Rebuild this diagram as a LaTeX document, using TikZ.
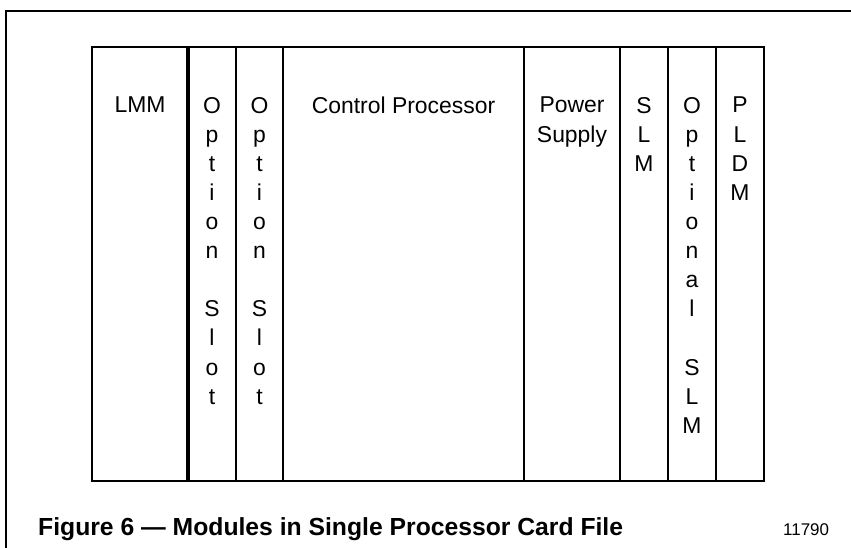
\documentclass[tikz,border=0pt]{standalone}
\usepackage{fontspec}
\setmainfont{Liberation Sans}
\usetikzlibrary{positioning}

\begin{document}
\begin{tikzpicture}[x=1bp,y=-1bp,
    modlabel/.style={anchor=north, align=center, inner sep=0pt,
      font=\fontsize{23}{29.2}\selectfont},
    frameline/.style={line width=2.8bp}]
    \useasboundingbox (0,0) rectangle (851,548);
    % page frame and card file outline
    \draw[frameline] (6,548) -- (6,11) -- (851,11);
    \draw[frameline] (92,47) rectangle (764,481);
    \foreach \x in {236,283,524,620,668,716}
      \draw[line width=2.5bp] (\x,47) -- (\x,481);
    \draw[line width=3.5bp] (188,47) -- (188,481);

    \node[modlabel] (lmm) at (140,97) {LMM};
    \node[modlabel] (optA) at (212,97) {O\\p\\t\\i\\o\\n\\ \\S\\l\\o\\t};
    \node[modlabel] (optB) at (259.5,97) {O\\p\\t\\i\\o\\n\\ \\S\\l\\o\\t};
    \node[modlabel] (cp) at (403.5,97) {Control Processor};
    \node[modlabel] (ps) at (572,97) {Power\\Supply};
    \node[modlabel] (slm) at (644,97) {S\\L\\M};
    \node[modlabel] (optslm) at (692,97) {O\\p\\t\\i\\o\\n\\a\\l\\ \\S\\L\\M};
    \node[modlabel] (pldm) at (740,97) {P\\L\\D\\M};

    \node[anchor=base west, inner sep=0pt, font=\bfseries\fontsize{24.8}{24.8}\selectfont]
      (caption) at (38,535) {Figure 6 — Modules in Single Processor Card File};
    \node[anchor=base west, inner sep=0pt, font=\fontsize{17}{17}\selectfont]
      (refnum) at (783,535) {11790};
\end{tikzpicture}
\end{document}
